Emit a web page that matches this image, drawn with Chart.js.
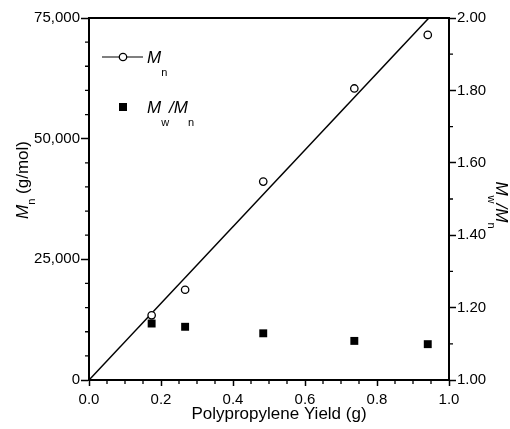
<!DOCTYPE html>
<html><head><meta charset="utf-8">
<script src="https://cdn.jsdelivr.net/npm/chart.js@4/dist/chart.umd.min.js"></script>
<style>html,body{margin:0;padding:0;background:#fff}</style>
</head><body>
<canvas id="c" width="510" height="429"></canvas>
<script>
// ---- data ----
const yieldG    = [0.174, 0.267, 0.484, 0.737, 0.941];
const mnValues  = [13400, 18700, 41100, 60400, 71500];
const pdiValues = [1.156, 1.147, 1.129, 1.108, 1.099];
const fitX = [0, 0.944];
const fitY = [0, 75000];
const xTitle = 'Polypropylene Yield (g)';
const leftTitle = [['M', 'i'], ['n', 's'], [' (g/mol)', 'r']];
const rightTitle = [['M', 'i'], ['w', 's'], ['/', 'i'], ['M', 'i'], ['n', 's']];
const legendRows = [
  [['M', 'i'], ['n', 's']],
  [['M', 'i'], ['w', 's'], ['/', 'i'], ['M', 'i'], ['n', 's']]
];

const FONT = "'Liberation Sans', Arial, Helvetica, sans-serif";
Chart.defaults.font.family = FONT;
Chart.defaults.color = '#000';

function fmtThousands(v) { return String(Math.round(v)).replace(/\B(?=(\d{3})+(?!\d))/g, ','); }

function richText(ctx, parts, x, y, angle, size, subSize, subDy) {
  ctx.save();
  ctx.translate(x, y);
  ctx.rotate(angle);
  ctx.textBaseline = 'alphabetic';
  ctx.textAlign = 'left';
  ctx.fillStyle = '#000';
  let cx = 0;
  for (const [t, k] of parts) {
    if (k === 's') { ctx.font = subSize + 'px ' + FONT; ctx.fillText(t, cx, subDy); }
    else { ctx.font = (k === 'i' ? 'italic ' : '') + size + 'px ' + FONT; ctx.fillText(t, cx, 0); }
    cx += ctx.measureText(t).width;
  }
  ctx.restore();
  return cx;
}
function richWidth(ctx, parts, size, subSize) {
  let w = 0;
  for (const [t, k] of parts) {
    ctx.font = (k === 's' ? subSize : size) + 'px ' + FONT;
    if (k === 'i') ctx.font = 'italic ' + size + 'px ' + FONT;
    w += ctx.measureText(t).width;
  }
  return w;
}

const deco = {
  id: 'deco',
  afterDraw(chart) {
    const ctx = chart.ctx, a = chart.chartArea;
    const sx = chart.scales.x, sy = chart.scales.y, sy1 = chart.scales.y1;
    ctx.save();
    ctx.strokeStyle = '#000';
    // top frame line
    ctx.lineWidth = 2;
    ctx.beginPath(); ctx.moveTo(a.left - 1, a.top); ctx.lineTo(a.right + 1, a.top); ctx.stroke();
    // minor ticks
    ctx.lineWidth = 1.3;
    ctx.beginPath();
    for (let i = 1; i < 20; i++) {
      if (i % 4 === 0) continue;
      const px = sx.getPixelForValue(i * 0.05);
      ctx.moveTo(px, a.bottom); ctx.lineTo(px, a.bottom + 4);
    }
    for (let i = 1; i < 15; i++) {
      if (i % 5 === 0) continue;
      const py = sy.getPixelForValue(i * 5000);
      ctx.moveTo(a.left, py); ctx.lineTo(a.left - 4, py);
    }
    for (let i = 1; i < 10; i += 2) {
      const py = sy1.getPixelForValue(1 + i * 0.1);
      ctx.moveTo(a.right, py); ctx.lineTo(a.right + 4, py);
    }
    ctx.stroke();

    // x title
    ctx.fillStyle = '#000';
    ctx.font = '17px ' + FONT;
    ctx.textAlign = 'center'; ctx.textBaseline = 'middle';
    ctx.fillText(xTitle, (a.left + a.right) / 2 + 10, 414);

    // left title (rotated CCW)
    const lw = richWidth(ctx, leftTitle, 17, 11);
    richText(ctx, leftTitle, 28, 180 + lw / 2, -Math.PI / 2, 17, 11, 7);
    // right title (rotated CW)
    const rw = richWidth(ctx, rightTitle, 17, 11);
    richText(ctx, rightTitle, 496, 205 - rw / 2, Math.PI / 2, 17, 11, 8);

    // legend
    const lx = a.left + 34, r1 = a.top + 39, r2 = a.top + 89;
    ctx.lineWidth = 1.2;
    ctx.beginPath(); ctx.moveTo(a.left + 13, r1); ctx.lineTo(a.left + 54, r1); ctx.stroke();
    ctx.fillStyle = '#fff'; ctx.lineWidth = 1.3;
    ctx.beginPath(); ctx.arc(lx, r1, 3.7, 0, Math.PI * 2); ctx.fill(); ctx.stroke();
    ctx.fillStyle = '#000';
    ctx.fillRect(lx - 4, r2 - 4, 8, 8);
    richText(ctx, legendRows[0], a.left + 58, r1 + 6, 0, 17, 11, 13);
    richText(ctx, legendRows[1], a.left + 58, r2 + 6, 0, 17, 11, 13);
    ctx.restore();
  }
};

new Chart(document.getElementById('c'), {
  type: 'scatter',
  data: {
    datasets: [
      { label: 'Mn', data: yieldG.map((x, i) => ({ x, y: mnValues[i] })), yAxisID: 'y',
        pointStyle: 'circle', pointRadius: 3.7, backgroundColor: '#fff', borderColor: '#000', borderWidth: 1.3, order: 0 },
      { label: 'Mw/Mn', data: yieldG.map((x, i) => ({ x, y: pdiValues[i] })), yAxisID: 'y1',
        pointStyle: 'rect', pointRadius: 5.6, backgroundColor: '#000', borderColor: '#000', borderWidth: 0, order: 1 },
      { label: 'fit', data: fitX.map((x, i) => ({ x, y: fitY[i] })), yAxisID: 'y', showLine: true,
        borderColor: '#000', borderWidth: 1.5, pointRadius: 0, order: 2 }
    ]
  },
  options: {
    responsive: false, animation: false, devicePixelRatio: 1,
    layout: { padding: { top: 18, left: 0, right: 0, bottom: 0 } },
    plugins: { legend: { display: false }, tooltip: { enabled: false } },
    scales: {
      x: { type: 'linear', position: 'bottom', min: 0, max: 1,
        afterFit(s) { s.height = 49; },
        ticks: { stepSize: 0.2, callback: v => Number(v).toFixed(1), font: { size: 15 }, padding: 5, maxRotation: 0, autoSkip: false },
        grid: { drawOnChartArea: false, drawTicks: true, tickLength: 6, tickWidth: 1.5, tickColor: '#000' },
        border: { display: true, color: '#000', width: 2 } },
      y: { type: 'linear', position: 'left', min: 0, max: 75000,
        afterFit(s) { s.width = 89; },
        ticks: { stepSize: 25000, callback: v => fmtThousands(v), font: { size: 15 }, padding: 1 },
        grid: { drawOnChartArea: false, drawTicks: true, tickLength: 8, tickWidth: 1.5, tickColor: '#000' },
        border: { display: true, color: '#000', width: 2 } },
      y1: { type: 'linear', position: 'right', min: 1, max: 2,
        afterFit(s) { s.width = 61; },
        ticks: { stepSize: 0.2, callback: v => Number(v).toFixed(2), font: { size: 15 }, padding: 1 },
        grid: { drawOnChartArea: false, drawTicks: true, tickLength: 7, tickWidth: 1.5, tickColor: '#000' },
        border: { display: true, color: '#000', width: 2 } }
    }
  },
  plugins: [deco]
});
</script>
</body></html>
